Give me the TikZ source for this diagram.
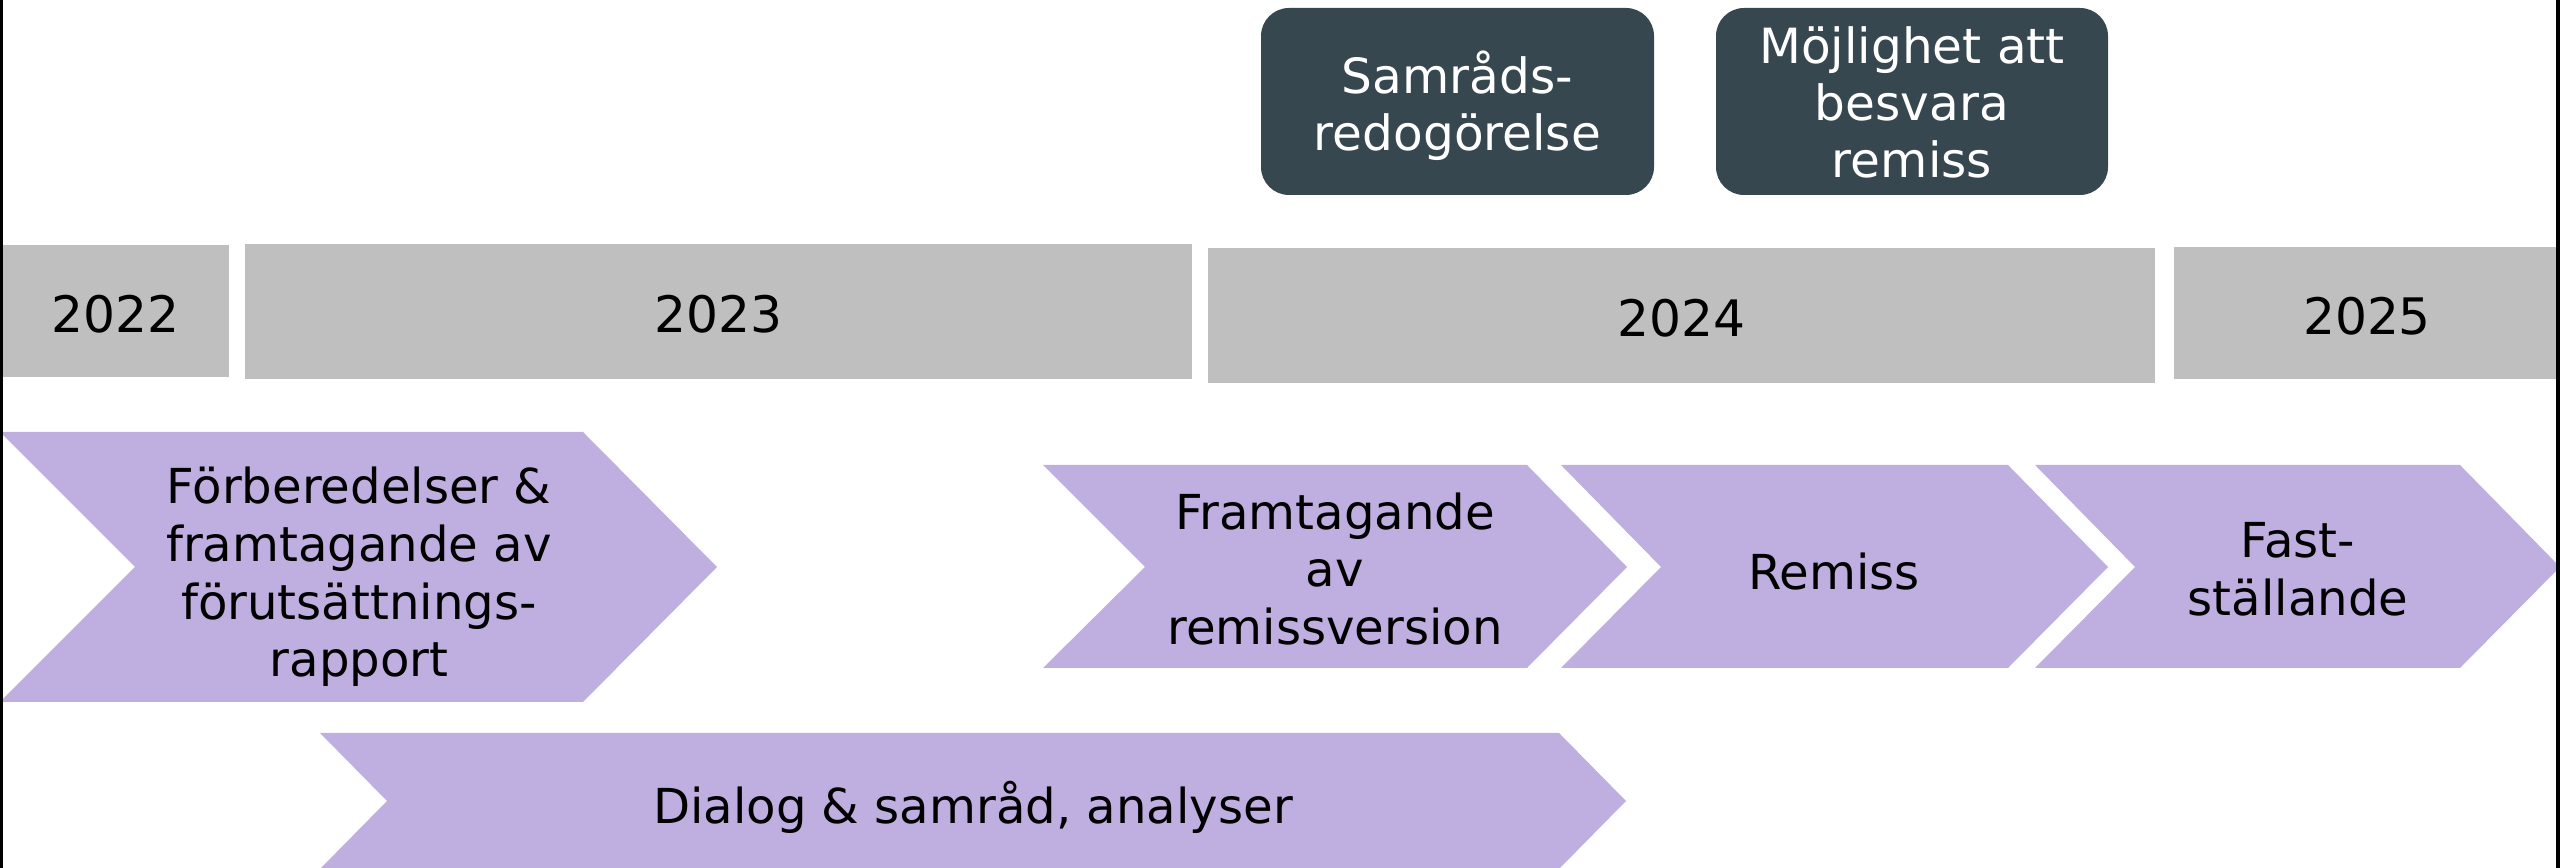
\documentclass[tikz,border=0pt]{standalone}
\usepackage{fontspec}
\setmainfont{DejaVu Sans}
\definecolor{yeargray}{RGB}{191,191,191}
\definecolor{lilac}{RGB}{191,174,224}
\definecolor{slate}{RGB}{55,71,79}
\begin{document}
\begin{tikzpicture}[x=0.01cm,y=-0.01cm,inner sep=0pt,
    year/.style={fill=yeargray,text height=0.43cm,text depth=0pt,
      font=\fontsize{14.3}{17}\selectfont},
    milestone/.style={text=white,align=center},
    phase/.style={fill=lilac},
    phasetext/.style={align=center,font=\fontsize{13.7}{16.4}\selectfont}]
\useasboundingbox (0,0) rectangle (2560,868);
% years
\node[year,minimum width=2.27cm,minimum height=1.32cm] (y22) at (115.5,311) {2022};
\node[year,minimum width=9.47cm,minimum height=1.35cm] (y23) at (718.5,311.5) {2023};
\node[year,minimum width=9.47cm,minimum height=1.35cm] (y24) at (1681.5,315.5) {2024};
\node[year,minimum width=3.86cm,minimum height=1.32cm] (y25) at (2367,313) {2025};
% milestones
\fill[slate,rounded corners=0.28cm] (1261,8) rectangle (1654,195);
\node[milestone,font=\fontsize{13.8}{16.3}\selectfont] (samrad) at (1457.5,105.5)
     {Samråds-\\redogörelse};
\fill[slate,rounded corners=0.28cm] (1716,8) rectangle (2108,195);
\node[milestone,font=\fontsize{13.8}{16.2}\selectfont] (besvara) at (1912,102)
     {Möjlighet att\\besvara\\remiss};
% phases
\fill[phase] (0,432) -- (583,432) -- (717,567) -- (583,702) -- (0,702) -- (135,567) -- cycle;
\node[phasetext] (forb) at (359,577)
     {Förberedelser \&\\framtagande av\\förutsättnings-\\rapport};
\fill[phase] (1043,465) -- (1527,465) -- (1627,567) -- (1527,668) -- (1043,668) -- (1145,567) -- cycle;
\node[phasetext] (framt) at (1335,569) {Framtagande\\av\\remissversion};
\fill[phase] (1561,465) -- (2008,465) -- (2108,567) -- (2008,668) -- (1561,668) -- (1661,567) -- cycle;
\node[phasetext] (remiss) at (1834,572) {Remiss};
\fill[phase] (2035,465) -- (2460,465) -- (2560,567) -- (2460,668) -- (2035,668) -- (2135,567) -- cycle;
\node[phasetext] (fast) at (2298,569) {Fast-\\ställande};
\fill[phase] (320,733) -- (1559,733) -- (1626,801) -- (1559,869) -- (320,869) -- (387,801) -- cycle;
\node[phasetext] (dialog) at (973,807) {Dialog \& samråd, analyser};
% frame
\draw[line width=0.03cm] (1.5,0) -- (1.5,868);
\draw[line width=0.04cm] (2558,0) -- (2558,868);
\end{tikzpicture}
\end{document}
